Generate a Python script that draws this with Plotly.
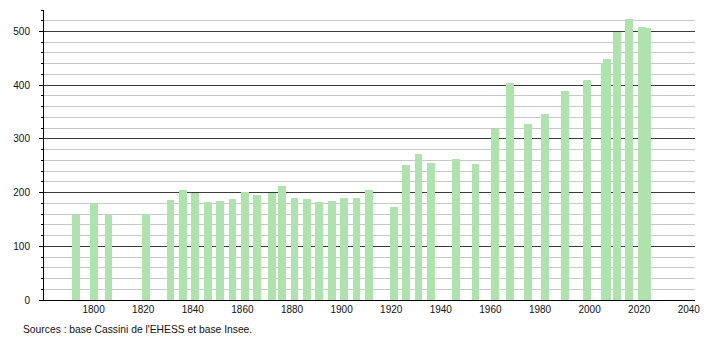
import plotly.graph_objects as go

years = [1793, 1800, 1806, 1821, 1831, 1836, 1841, 1846, 1851, 1856,
         1861, 1866, 1872, 1876, 1881, 1886, 1891, 1896, 1901, 1906,
         1911, 1921, 1926, 1931, 1936, 1946, 1954, 1962, 1968, 1975,
         1982, 1990, 1999, 2006, 2007, 2011, 2016, 2021, 2023]
population = [158, 179, 158, 161, 187, 204, 200, 183, 185, 189,
              202, 196, 199, 213, 190, 189, 183, 185, 190, 190,
              204, 174, 252, 271, 256, 263, 254, 318, 405, 327,
              346, 390, 409, 442, 448, 499, 523, 508, 506]

x_tick_vals = [1800, 1820, 1840, 1860, 1880, 1900, 1920, 1940, 1960, 1980, 2000, 2020, 2040]
x_tick_text = [str(v) for v in x_tick_vals]
y_tick_vals = [0, 100, 200, 300, 400, 500]
source_text = "Sources : base Cassini de l'EHESS et base Insee."

fig = go.Figure()
fig.add_trace(go.Bar(
    x=years, y=population, width=3.2,
    marker=dict(color="#aee3ae", line=dict(width=0)),
    hoverinfo="x+y",
))

fig.update_layout(
    width=710, height=340,
    margin=dict(l=44, r=10, t=10, b=40),
    paper_bgcolor="white", plot_bgcolor="white",
    font=dict(family="Liberation Sans, Arial, sans-serif", size=10, color="#111"),
    showlegend=False,
    bargap=0,
    annotations=[dict(
        text=source_text, xref="paper", yref="paper",
        x=-0.0355, y=-0.1, xanchor="left", yanchor="middle",
        showarrow=False, font=dict(size=10.3, color="#111"),
    )],
)

fig.update_xaxes(
    range=[1780, 2042.5],
    tickvals=x_tick_vals, ticktext=x_tick_text,
    showgrid=False, zeroline=False,
    showline=True, linecolor="#000", linewidth=1,
    ticks="", ticklabelstandoff=0,
)

fig.update_yaxes(
    range=[0, 540],
    tickvals=y_tick_vals,
    showgrid=True, gridcolor="#3a3a3a", gridwidth=1,
    zeroline=False,
    showline=True, linecolor="#000", linewidth=1,
    ticks="outside", ticklen=4, tickcolor="#000",
    ticklabelstandoff=7,
    minor=dict(dtick=20, showgrid=True, gridcolor="#c8c8c8", gridwidth=1,
               ticks="outside", ticklen=2, tickcolor="#000"),
)

fig.write_html("out.html")
